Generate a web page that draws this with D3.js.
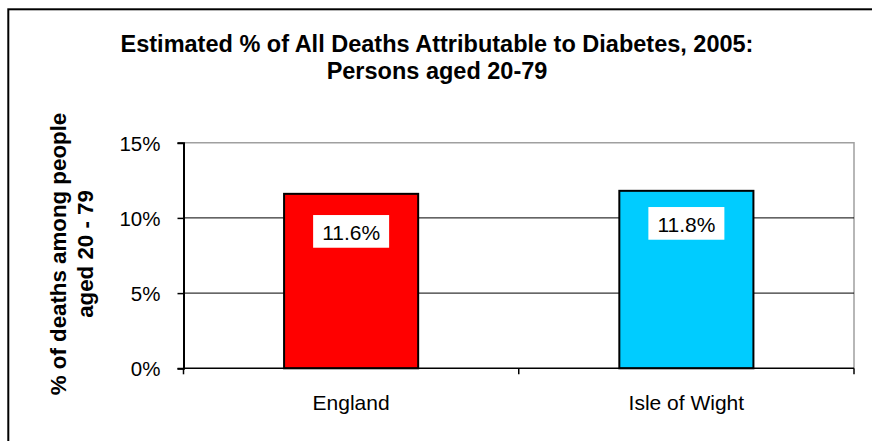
<!DOCTYPE html>
<html><head><meta charset="utf-8">
<script src="https://cdn.jsdelivr.net/npm/d3@7"></script>
<style>html,body{margin:0;padding:0;background:#fff;}svg{display:block;}</style>
</head><body>
<script>
const categories = ["England", "Isle of Wight"];
const values = [11.6, 11.8];
const valueLabels = ["11.6%", "11.8%"];
const barColors = ["#ff0000", "#00ccff"];
const yTicks = [0, 5, 10, 15];
const yTickLabels = ["0%", "5%", "10%", "15%"];
const titleLines = ["Estimated % of All Deaths Attributable to Diabetes, 2005:", "Persons aged 20-79"];
const yLabelLines = ["% of deaths among people", "aged 20 - 79"];

const W = 872, H = 441;
const font = "'Liberation Sans', Arial, sans-serif";
const svg = d3.select("body").append("svg").attr("width", W).attr("height", H);
svg.append("rect").attr("width", W).attr("height", H).attr("fill", "#fff");
// outer frame
svg.append("rect").attr("x", 8.3).attr("y", 9.3).attr("width", W + 20).attr("height", H + 20)
  .attr("fill", "none").attr("stroke", "#000").attr("stroke-width", 2);

const L = 183.5, R = 854, T = 142.7, B = 368.3;
const x = d3.scaleBand().domain(categories).range([L, R]).paddingInner(0.6).paddingOuter(0.3);
const y = d3.scaleLinear().domain([0, 15]).range([B, T]);

// plot border (top/right)
svg.append("path").attr("d", `M${L},${T}H${R}V${B}`).attr("fill", "none")
  .attr("stroke", "#a0a0a0").attr("stroke-width", 1.5);

// gridlines
svg.append("g").selectAll("line").data(yTicks.filter(d => d > 0 && d < 15)).join("line")
  .attr("x1", L).attr("x2", R).attr("y1", d => y(d)).attr("y2", d => y(d))
  .attr("stroke", "#000").attr("stroke-width", 1);

// y axis
const yAxis = d3.axisLeft(y).tickValues(yTicks).tickSize(6).tickPadding(17)
  .tickFormat((d, i) => yTickLabels[i]);
const gy = svg.append("g").attr("transform", `translate(${L},0)`).call(yAxis);
gy.select(".domain").attr("stroke", "#000").attr("stroke-width", 2);
gy.selectAll(".tick line").attr("stroke", "#000").attr("stroke-width", 1.5);
gy.selectAll(".tick text").attr("font-family", font).attr("font-size", 20.5).attr("fill", "#000").attr("dy", "0.36em");

// bars
svg.append("g").selectAll("rect").data(values).join("rect")
  .attr("x", (d, i) => x(categories[i])).attr("width", x.bandwidth())
  .attr("y", d => y(d)).attr("height", d => y(0) - y(d))
  .attr("fill", (d, i) => barColors[i]).attr("stroke", "#000").attr("stroke-width", 2);

// x axis (baseline + boundary ticks)
const xBound = d3.scaleLinear().domain([0, categories.length]).range([L, R]);
svg.append("line").attr("x1", L).attr("x2", R).attr("y1", B).attr("y2", B).attr("stroke", "#000").attr("stroke-width", 1.5);
svg.append("g").selectAll("line").data(d3.range(categories.length + 1)).join("line")
  .attr("x1", d => xBound(d)).attr("x2", d => xBound(d)).attr("y1", B).attr("y2", B + 6)
  .attr("stroke", "#000").attr("stroke-width", 1.5);
svg.append("g").selectAll("text").data(categories).join("text")
  .attr("x", d => x(d) + x.bandwidth() / 2).attr("y", 410)
  .attr("text-anchor", "middle").attr("font-family", font).attr("font-size", 21).text(d => d);

// value labels
const labelDy = [37.5, 32.5];
const lg = svg.append("g").selectAll("g").data(values).join("g")
  .attr("transform", (d, i) => `translate(${x(categories[i]) + x.bandwidth() / 2},${y(d) + labelDy[i]})`);
lg.append("rect").attr("x", -38).attr("y", -16.3).attr("width", 76).attr("height", 32.7).attr("fill", "#fff");
lg.append("text").attr("y", 8.7).attr("text-anchor", "middle").attr("font-family", font)
  .attr("font-size", 21).text((d, i) => valueLabels[i]);

// title
svg.append("g").selectAll("text").data(titleLines).join("text")
  .attr("x", 437).attr("y", (d, i) => 51.5 + i * 27)
  .attr("text-anchor", "middle").attr("font-family", font).attr("font-weight", "bold")
  .attr("font-size", 23.5).text(d => d);

// y label
svg.append("g").attr("transform", "translate(0,254) rotate(-90)").selectAll("text").data(yLabelLines).join("text")
  .attr("x", 0).attr("y", (d, i) => 66 + i * 27)
  .attr("text-anchor", "middle").attr("font-family", font).attr("font-weight", "bold")
  .attr("font-size", 22.3).text(d => d);
</script>
</body></html>
